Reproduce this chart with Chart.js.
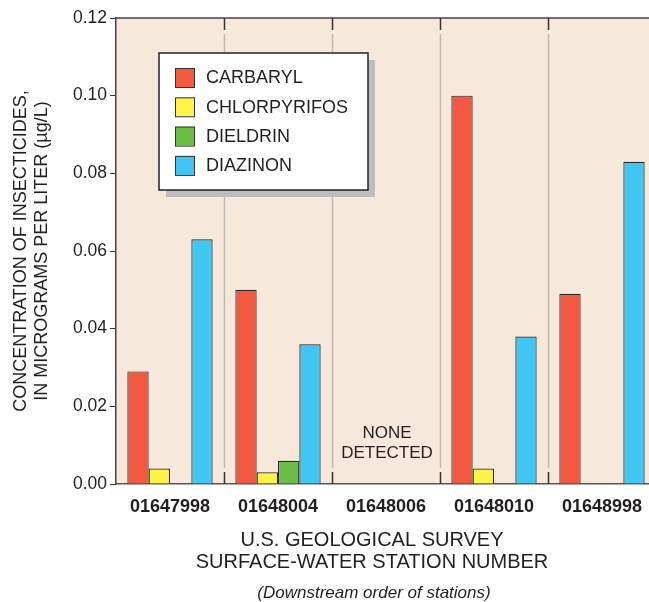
<!DOCTYPE html>
<html>
<head>
<meta charset="utf-8">
<script src="https://cdn.jsdelivr.net/npm/chart.js@4"></script>
<style>
  html, body { margin: 0; padding: 0; background: #fff; overflow: hidden; width: 649px; height: 602px; }
  canvas { display: block; }
</style>
</head>
<body>
<canvas id="chart" width="664" height="602"></canvas>
<script>
// station numbers along the x axis
const stations = ["01647998", "01648004", "01648006", "01648010", "01648998"];
// concentrations in micrograms per liter (null = not detected)
const carbaryl = [0.029, 0.050, null, 0.100, 0.049];
const chlorpyrifos = [0.004, 0.003, null, 0.004, null];
const dieldrin = [null, 0.006, null, null, null];
const diazinon = [0.063, 0.036, null, 0.038, 0.083];
const yTicks = [0, 0.02, 0.04, 0.06, 0.08, 0.10, 0.12];

const FONT = "'Liberation Sans', Arial, Helvetica, sans-serif";
const INK = "#231f20";

// background, separators, legend and notes
const decor = {
  id: "decor",
  beforeDraw(chart) {
    const { ctx, chartArea: a } = chart;
    ctx.save();
    ctx.fillStyle = "#f7e8dc";
    ctx.fillRect(a.left, a.top, a.right - a.left, a.bottom - a.top);
    ctx.restore();
  },
  beforeDatasetsDraw(chart) {
    const { ctx, chartArea: a, scales } = chart;
    const x = scales.x;
    ctx.save();
    ctx.lineWidth = 1.5;
    for (let i = 1; i < stations.length; i++) {
      const px = Math.round((x.getPixelForTick(i - 1) + x.getPixelForTick(i)) / 2) + 0.5;
      ctx.strokeStyle = "#bfb9b3";
      ctx.beginPath();
      ctx.moveTo(px, a.top + 16);
      ctx.lineTo(px, a.bottom - 16);
      ctx.stroke();
      ctx.strokeStyle = "#333";
      ctx.beginPath();
      ctx.moveTo(px, a.top);
      ctx.lineTo(px, a.top + 12);
      ctx.moveTo(px, a.bottom - 12);
      ctx.lineTo(px, a.bottom);
      ctx.stroke();
    }
    // top frame line
    ctx.strokeStyle = "#444";
    ctx.lineWidth = 1.5;
    ctx.beginPath();
    ctx.moveTo(a.left, a.top);
    ctx.lineTo(a.right, a.top);
    ctx.stroke();
    ctx.restore();
  },
  afterDraw(chart) {
    const { ctx, scales } = chart;
    ctx.save();
    // legend box with shadow
    const bx = 159, by = 53, bw = 209, bh = 137;
    ctx.fillStyle = "#bdbdbd";
    ctx.fillRect(bx + 7, by + 7, bw, bh);
    ctx.fillStyle = "#fff";
    ctx.fillRect(bx, by, bw, bh);
    ctx.strokeStyle = "#222";
    ctx.lineWidth = 1.5;
    ctx.strokeRect(bx, by, bw, bh);
    ctx.font = "18px " + FONT;
    ctx.textBaseline = "middle";
    chart.data.datasets.forEach((ds, i) => {
      const y = 68 + i * 29.3;
      ctx.fillStyle = ds.backgroundColor;
      ctx.fillRect(175, y, 19, 19);
      ctx.strokeStyle = "#333";
      ctx.lineWidth = 1;
      ctx.strokeRect(175.5, y + 0.5, 19, 19);
      ctx.fillStyle = INK;
      ctx.fillText(ds.label, 206, y + 10.5);
    });
    // note for empty station
    const nx = scales.x.getPixelForTick(2);
    ctx.font = "17px " + FONT;
    ctx.textAlign = "center";
    ctx.fillText("NONE", nx + 1, 433);
    ctx.fillText("DETECTED", nx + 1, 453);
    // x axis title lines
    ctx.textBaseline = "alphabetic";
    ctx.font = "20px " + FONT;
    ctx.fillText("U.S. GEOLOGICAL SURVEY", 372, 546);
    ctx.fillText("SURFACE-WATER STATION NUMBER", 372, 568);
    ctx.font = "italic 17px " + FONT;
    ctx.fillText("(Downstream order of stations)", 374, 598);
    ctx.restore();
  }
};

const mk = (label, data, color) => ({
  label, data,
  backgroundColor: color,
  borderColor: "#2a2a2a",
  borderWidth: 1.2,
  categoryPercentage: 0.79,
  barPercentage: 1.0
});

new Chart(document.getElementById("chart"), {
  type: "bar",
  data: {
    labels: stations,
    datasets: [
      mk("CARBARYL", carbaryl, "#f15a40"),
      mk("CHLORPYRIFOS", chlorpyrifos, "#fff34a"),
      mk("DIELDRIN", dieldrin, "#6cbd45"),
      mk("DIAZINON", diazinon, "#41c6f2")
    ]
  },
  options: {
    responsive: false,
    animation: false,
    layout: { padding: { top: 18, right: 8, bottom: 0, left: 0 } },
    plugins: { legend: { display: false }, tooltip: { enabled: false } },
    scales: {
      x: {
        grid: { display: false },
        border: { display: true, color: "#555", width: 1.5 },
        ticks: { color: INK, font: { family: FONT, size: 18, weight: "bold" }, padding: 4 },
        afterFit(s) { s.height = 118; }
      },
      y: {
        min: 0,
        max: 0.12,
        afterBuildTicks(s) { s.ticks = yTicks.map(v => ({ value: v })); },
        grid: { drawOnChartArea: false, drawTicks: true, tickLength: 6, color: "#333" },
        border: { display: true, color: "#444", width: 1.5 },
        ticks: {
          color: INK,
          padding: 3,
          font: { family: FONT, size: 17.5 },
          callback: v => v.toFixed(2)
        },
        title: {
          display: true,
          text: ["CONCENTRATION OF INSECTICIDES,", "IN MICROGRAMS PER LITER (\u00b5g/L)"],
          color: INK,
          font: { family: FONT, size: 18 },
          padding: { top: 10, bottom: 0 }
        },
        afterFit(s) { s.width = 116; }
      }
    }
  },
  plugins: [decor]
});
</script>
</body>
</html>
